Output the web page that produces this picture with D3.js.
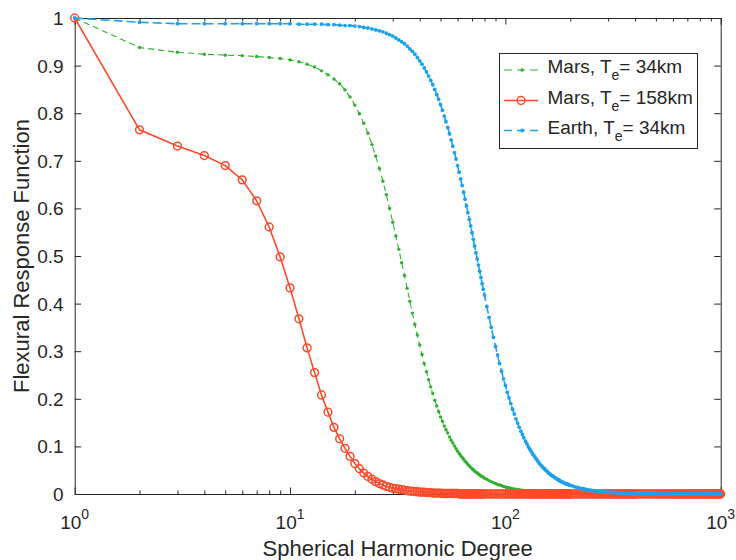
<!DOCTYPE html>
<html>
<head>
<meta charset="utf-8">
<script src="https://cdn.jsdelivr.net/npm/d3@7"></script>
<style>
  html, body { margin: 0; padding: 0; background: #fff; }
  svg { display: block; }
  text { font-family: "Liberation Sans", Arial, Helvetica, sans-serif; fill: #262626; }
</style>
</head>
<body>
<svg id="chart" width="736" height="560"></svg>
<script>
// ---------------- data ----------------
const degrees = [
  1,2,3,4,5,6,7,8,9,10, 11,12,13,14,15,16,17,18,19,20,
  21,22,23,24,25,26,27,28,29,30, 31,32,33,34,35,36,37,38,39,40,
  41,42,43,44,45,46,47,48,49,50, 51,52,53,54,55,56,57,58,59,60,
  61,62,63,64,65,66,67,68,69,70, 71,72,73,74,75,76,77,78,79,80,
  82,84,86,88,90,92,94,96,98,100, 102,104,106,108,110,112,114,116,118,120,
  122,124,126,128,130,132,134,136,138,140, 142,144,146,148,150,152,154,156,158,160,
  162,164,166,168,170,172,174,176,178,180, 182,184,186,188,190,192,194,196,198,200,
  205,210,215,220,225,230,235,240,245,250, 255,260,265,270,275,280,285,290,295,300,
  305,310,315,320,325,330,335,340,345,350, 355,360,365,370,375,380,385,390,395,400,
  410,420,430,440,450,460,470,480,490,500, 510,520,530,540,550,560,570,580,590,600,
  610,620,630,640,650,660,670,680,690,700, 710,720,730,740,750,760,770,780,790,800,
  810,820,830,840,850,860,870,880,890,900, 910,920,930,940,950,960,970,980,990,1000
];

// Mars, Te = 34 km
const marsThin = [
  1.000,0.938,0.928,0.924,0.922,0.921,0.919,0.917,0.915,0.912,
  0.908,0.903,0.897,0.889,0.881,0.872,0.862,0.849,0.834,0.817,
  0.799,0.779,0.758,0.734,0.710,0.684,0.657,0.629,0.600,0.571,
  0.542,0.514,0.486,0.459,0.432,0.405,0.380,0.356,0.334,0.313,
  0.293,0.274,0.257,0.240,0.225,0.211,0.197,0.185,0.173,0.162,
  0.153,0.143,0.135,0.128,0.120,0.113,0.107,0.101,0.095,0.090,
  0.085,0.081,0.077,0.073,0.069,0.066,0.062,0.059,0.056,0.053,
  0.051,0.048,0.046,0.044,0.042,0.040,0.038,0.037,0.035,0.033,
  0.031,0.028,0.026,0.024,0.022,0.020,0.019,0.018,0.016,0.015,
  0.014,0.013,0.012,0.011,0.010,0.010,0.009,0.009,0.008,0.008,
  0.007,0.007,0.006,0.006,0.006,0.005,0.005,0.005,0.004,0.004,
  0.004,0.004,0.004,0.003,0.003,0.003,0.003,0.003,0.002,0.002,
  0.002,0.002,0.002,0.002,0.002,0.002,0.002,0.002,0.002,0.001,
  0.001,0.001,0.001,0.001,0.001,0.001,0.001,0.001,0.001,0.001,
  0.001,0.001,0.001,0.001,0.001,0.001,0.001,0.001,0.001,0.001,
  0,0,0,0,0,0,0,0,0,0, 0,0,0,0,0,0,0,0,0,0, 0,0,0,0,0,0,0,0,0,0,
  0,0,0,0,0,0,0,0,0,0, 0,0,0,0,0,0,0,0,0,0, 0,0,0,0,0,0,0,0,0,0,
  0,0,0,0,0,0,0,0,0,0, 0,0,0,0,0,0,0,0,0,0, 0,0,0,0,0,0,0,0,0,0
];

// Mars, Te = 158 km
const marsThick = [
  1.000,0.765,0.731,0.711,0.690,0.660,0.616,0.561,0.498,0.433,
  0.368,0.307,0.255,0.208,0.172,0.140,0.116,0.096,0.079,0.064,
  0.053,0.044,0.037,0.031,0.026,0.022,0.019,0.016,0.014,0.012,
  0.011,0.010,0.009,0.008,0.007,0.006,0.006,0.005,0.005,0.004,
  0.004,0.004,0.003,0.003,0.003,0.002,0.002,0.002,0.002,0.002,
  0.001,0.001,0.001,0.001,0.001,0.001,0.001,0.001,0.001,0.001,
  0,0,0,0,0,0,0,0,0,0, 0,0,0,0,0,0,0,0,0,0,
  0,0,0,0,0,0,0,0,0,0, 0,0,0,0,0,0,0,0,0,0, 0,0,0,0,0,0,0,0,0,0,
  0,0,0,0,0,0,0,0,0,0, 0,0,0,0,0,0,0,0,0,0, 0,0,0,0,0,0,0,0,0,0,
  0,0,0,0,0,0,0,0,0,0, 0,0,0,0,0,0,0,0,0,0, 0,0,0,0,0,0,0,0,0,0,
  0,0,0,0,0,0,0,0,0,0, 0,0,0,0,0,0,0,0,0,0, 0,0,0,0,0,0,0,0,0,0,
  0,0,0,0,0,0,0,0,0,0, 0,0,0,0,0,0,0,0,0,0, 0,0,0,0,0,0,0,0,0,0,
  0,0,0,0,0,0,0,0,0,0
];

// Earth, Te = 34 km
const earth = [
  1.000,0.991,0.988,0.988,0.988,0.988,0.988,0.988,0.988,0.988,
  0.987,0.987,0.987,0.987,0.986,0.986,0.985,0.984,0.984,0.983,
  0.982,0.980,0.979,0.977,0.975,0.973,0.971,0.968,0.965,0.962,
  0.958,0.954,0.950,0.946,0.941,0.935,0.930,0.924,0.917,0.910,
  0.903,0.895,0.887,0.878,0.869,0.860,0.850,0.839,0.829,0.818,
  0.806,0.794,0.782,0.770,0.757,0.744,0.731,0.717,0.704,0.690,
  0.676,0.662,0.648,0.634,0.619,0.605,0.591,0.577,0.563,0.549,
  0.535,0.521,0.507,0.494,0.481,0.468,0.455,0.442,0.430,0.418,
  0.394,0.371,0.350,0.329,0.310,0.292,0.274,0.258,0.242,0.228,
  0.214,0.202,0.190,0.178,0.168,0.158,0.149,0.140,0.132,0.125,
  0.118,0.111,0.105,0.099,0.094,0.089,0.084,0.080,0.076,0.072,
  0.068,0.064,0.061,0.058,0.055,0.053,0.050,0.048,0.045,0.043,
  0.041,0.039,0.038,0.036,0.034,0.033,0.031,0.030,0.029,0.027,
  0.026,0.025,0.024,0.023,0.022,0.021,0.021,0.020,0.019,0.018,
  0.017,0.015,0.014,0.013,0.011,0.011,0.010,0.009,0.008,0.008,
  0.007,0.007,0.006,0.006,0.005,0.005,0.005,0.004,0.004,0.004,
  0.003,0.003,0.003,0.003,0.003,0.003,0.002,0.002,0.002,0.002,
  0.002,0.002,0.002,0.002,0.002,0.001,0.001,0.001,0.001,0.001,
  0.001,0.001,0.001,0.001,0.001,0.001,0.001,0.001,0.001,0.001,
  0,0,0,0,0,0,0,0,0,0, 0,0,0,0,0,0,0,0,0,0, 0,0,0,0,0,0,0,0,0,0,
  0,0,0,0,0,0,0,0,0,0, 0,0,0,0,0,0,0,0,0,0
];

const seriesNames = ["Mars, T|e|= 34km", "Mars, T|e|= 158km", "Earth, T|e|= 34km"];
const yTickValues = [0, 0.1, 0.2, 0.3, 0.4, 0.5, 0.6, 0.7, 0.8, 0.9, 1];
const yTickLabels = ["0", "0.1", "0.2", "0.3", "0.4", "0.5", "0.6", "0.7", "0.8", "0.9", "1"];
const xMajorTicks = [1, 10, 100, 1000];
const xTickExponents = ["0", "1", "2", "3"];
const xMinorTicks = [2,3,4,5,6,7,8,9, 20,30,40,50,60,70,80,90, 200,300,400,500,600,700,800,900];
const xLabel = "Spherical Harmonic Degree";
const yLabel = "Flexural Response Function";

// ---------------- drawing ----------------
const svg = d3.select("#chart");
const axisColor = "#262626";
const L = 74.7, R = 720.7, T = 18, B = 494;
const x = d3.scaleLog().domain([1, 1000]).range([L, R]);
const y = d3.scaleLinear().domain([0, 1]).range([B, T]);

const styles = [
  { color: "#2fb12f", width: 1.1, dash: "6,4", marker: "dot", r: 1.7 },
  { color: "#fd4a2b", width: 1.6, dash: null, marker: "circle", r: 3.9 },
  { color: "#1ba1ef", width: 1.6, dash: "9,4", marker: "dot", r: 1.9 }
];
const seriesValues = [marsThin, marsThick, earth];

// axes
function styleAxis(g) {
  g.selectAll("path.domain").attr("stroke", axisColor).attr("stroke-width", 1);
  g.selectAll(".tick line").attr("stroke", axisColor).attr("stroke-width", 1);
  g.selectAll(".tick text").remove();
}
const majLen = 6.5, minLen = 3.5;
svg.append("g").attr("transform", `translate(0,${B})`)
  .call(d3.axisBottom(x).tickValues(xMajorTicks).tickSize(-majLen).tickSizeOuter(0).tickFormat(""))
  .call(styleAxis);
svg.append("g").attr("transform", `translate(0,${B})`)
  .call(d3.axisBottom(x).tickValues(xMinorTicks).tickSize(-minLen).tickSizeOuter(0).tickFormat(""))
  .call(styleAxis);
svg.append("g").attr("transform", `translate(0,${T})`)
  .call(d3.axisTop(x).tickValues(xMajorTicks).tickSize(-majLen).tickSizeOuter(0).tickFormat(""))
  .call(styleAxis);
svg.append("g").attr("transform", `translate(0,${T})`)
  .call(d3.axisTop(x).tickValues(xMinorTicks).tickSize(-minLen).tickSizeOuter(0).tickFormat(""))
  .call(styleAxis);
svg.append("g").attr("transform", `translate(${L},0)`)
  .call(d3.axisLeft(y).tickValues(yTickValues).tickSize(-majLen).tickSizeOuter(0).tickFormat(""))
  .call(styleAxis);
svg.append("g").attr("transform", `translate(${R},0)`)
  .call(d3.axisRight(y).tickValues(yTickValues).tickSize(-majLen).tickSizeOuter(0).tickFormat(""))
  .call(styleAxis);

// y tick labels
svg.append("g").selectAll("text").data(yTickValues).join("text")
  .attr("x", L - 11).attr("y", d => y(d) + 7)
  .attr("text-anchor", "end").attr("font-size", 19)
  .text((d, i) => yTickLabels[i]);

// x tick labels 10^k
const xl = svg.append("g").selectAll("text").data(xMajorTicks).join("text")
  .attr("x", d => x(d)).attr("y", 529)
  .attr("text-anchor", "middle").attr("font-size", 19);
xl.append("tspan").text("10");
xl.append("tspan").attr("dy", -10).attr("font-size", 14).text((d, i) => xTickExponents[i]);

// axis labels
svg.append("text").attr("x", (L + R) / 2).attr("y", 556)
  .attr("text-anchor", "middle").attr("font-size", 22).text(xLabel);
svg.append("text").attr("transform", `translate(29,${(T + B) / 2}) rotate(-90)`)
  .attr("text-anchor", "middle").attr("font-size", 22).text(yLabel);

// series
const line = d3.line().x(d => x(d.n)).y(d => y(d.v));
seriesValues.forEach((vals, si) => {
  const st = styles[si];
  const pts = degrees.map((n, i) => ({ n: n, v: vals[i] }));
  const g = svg.append("g");
  g.append("path").datum(pts).attr("d", line)
    .attr("fill", "none").attr("stroke", st.color).attr("stroke-width", st.width)
    .attr("stroke-dasharray", st.dash);
  if (st.marker === "circle") {
    g.selectAll("circle").data(pts).join("circle")
      .attr("cx", d => x(d.n)).attr("cy", d => y(d.v)).attr("r", st.r)
      .attr("fill", "none").attr("stroke", st.color).attr("stroke-width", 1.5);
  } else {
    g.selectAll("circle").data(pts).join("circle")
      .attr("cx", d => x(d.n)).attr("cy", d => y(d.v)).attr("r", st.r)
      .attr("fill", st.color);
  }
});

// legend
const lg = svg.append("g");
lg.append("rect").attr("x", 499.5).attr("y", 53.5).attr("width", 198).attr("height", 95)
  .attr("fill", "#fff").attr("stroke", axisColor).attr("stroke-width", 1);
const rowY = [70, 100.5, 130.5];
seriesNames.forEach((name, i) => {
  const st = styles[i];
  const yy = rowY[i];
  lg.append("line").attr("x1", 504).attr("x2", 538).attr("y1", yy).attr("y2", yy)
    .attr("stroke", st.color).attr("stroke-width", st.width)
    .attr("stroke-dasharray", st.dash ? "8,5" : null);
  if (st.marker === "circle") {
    lg.append("circle").attr("cx", 521).attr("cy", yy).attr("r", st.r)
      .attr("fill", "none").attr("stroke", st.color).attr("stroke-width", 1.5);
  } else {
    lg.append("circle").attr("cx", 522).attr("cy", yy).attr("r", st.r).attr("fill", st.color);
  }
  const parts = name.split("|");
  const t = lg.append("text").attr("x", 547.5).attr("y", yy + 3).attr("font-size", 19);
  t.append("tspan").text(parts[0]);
  t.append("tspan").attr("dy", 7).attr("font-size", 14).text(parts[1]);
  t.append("tspan").attr("dy", -7).text(parts[2]);
});
</script>
</body>
</html>
